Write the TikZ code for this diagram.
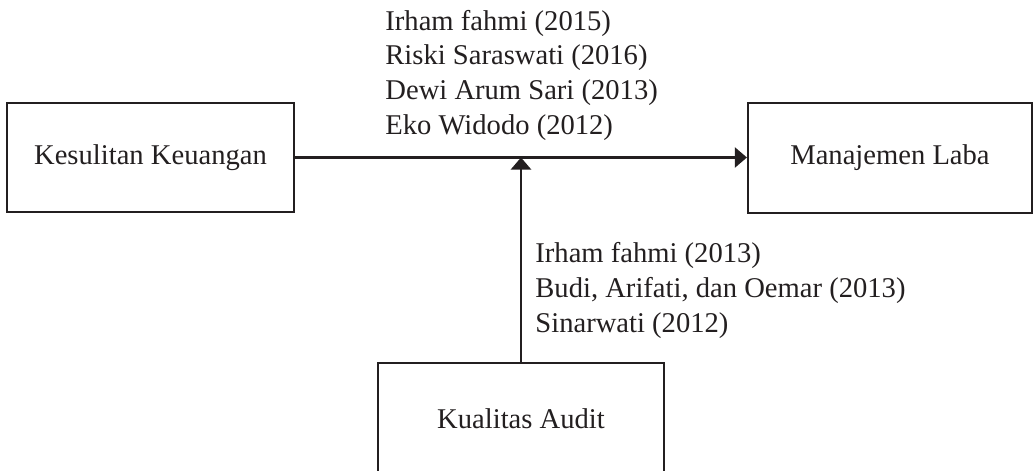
\documentclass[tikz,border=0pt]{standalone}
\usepackage{fontspec}
\setmainfont{Liberation Serif}
\usetikzlibrary{arrows.meta,positioning}
\definecolor{ink}{RGB}{35,31,32}

\begin{document}
\begin{tikzpicture}[x=0.5pt,y=-0.5pt,
    font=\fontsize{14.3}{17.3}\selectfont,
    box/.style={draw=ink,line width=1.1pt,minimum width=143.5pt,minimum height=54.5pt,inner sep=0pt,text=ink},
    refs/.style={align=left,inner sep=0pt,text=ink},
    link/.style={draw=ink,line width=1.1pt,-{Triangle[length=6pt,width=10pt]}}]
  \useasboundingbox (0,0) rectangle (1034,471);
  \node[box] (keu) at (150.5,157.5) {Kesulitan Keuangan};
  \node[box,minimum width=142pt,minimum height=55pt] (laba) at (890,158) {Manajemen Laba};
  \node[box,minimum width=143pt,minimum height=56pt] (audit) at (521,419) {Kualitas Audit};
  \coordinate (meet) at (keu.east -| audit.north);
  \draw[link] (keu.east) -- (keu.east -| laba.west);
  \draw[link] (audit.north) -- (meet);
  \node[refs,anchor=base west] (refsatas) at (385,134)
    {Irham fahmi (2015)\\Riski Saraswati (2016)\\Dewi Arum Sari (2013)\\Eko Widodo (2012)};
  \node[refs,anchor=base west] (refsbawah) at (535,332)
    {Irham fahmi (2013)\\Budi, Arifati, dan Oemar (2013)\\Sinarwati (2012)};
\end{tikzpicture}
\end{document}
